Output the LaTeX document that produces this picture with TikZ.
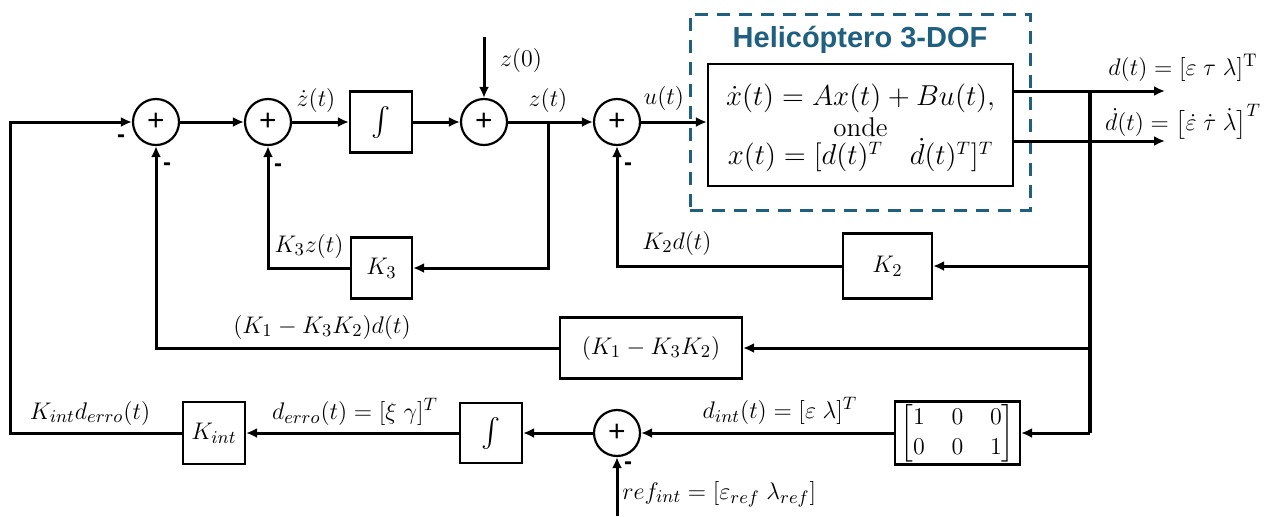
\documentclass[tikz,border=0pt]{standalone}
\usepackage{amsmath}
\usepackage{fontspec}
\newfontfamily\arialf{Liberation Sans}
\usetikzlibrary{arrows.meta,calc}
\definecolor{heli}{RGB}{31,95,128}
\begin{document}
\begin{tikzpicture}[x=0.5pt,y=-0.5pt,
  sig/.style={line width=1.5pt,-{Latex[length=5.5pt,width=5pt]}},
  bus/.style={line width=2.2pt},
  sumnode/.style={circle,draw,line width=1.1pt,minimum size=23pt,inner sep=0pt,fill=white,font=\arialf\fontsize{15}{15}\selectfont},
  blk/.style={draw,line width=1.1pt,inner sep=0pt,fill=white,font=\fontsize{13}{15}\selectfont},
  lbl/.style={font=\fontsize{13}{15}\selectfont,inner sep=1pt},
  minus/.style={font=\arialf\bfseries\fontsize{12}{12}\selectfont,inner sep=0pt}]
\useasboundingbox (0,0) rectangle (1268,516);

% helicopter frame
\node[draw=heli,line width=1.5pt,dash pattern=on 6.5pt off 4.5pt,minimum width=170pt,minimum height=98pt,inner sep=0pt] (frame) at (860,112) {};
\node[text=heli,font=\arialf\bfseries\fontsize{14.5}{15}\selectfont] (title) at (860,40) {Helicóptero 3-DOF};
\node[blk,minimum width=152.5pt,minimum height=61pt] (plant) at (860.5,125) {};
\node[lbl,font=\fontsize{13.5}{15}\selectfont] (pl1) at (860.5,98) {$\dot{x}(t)=Ax(t)+Bu(t),$};
\node[lbl,font=\fontsize{13.5}{15}\selectfont] (pl2) at (860.5,127) {onde};
\node[lbl,font=\fontsize{13.5}{15}\selectfont] (pl3) at (860.5,155) {$x(t)=[d(t)^{T}\quad \dot{d}(t)^{T}]^{T}$};

% summing junctions
\node[sumnode] (s1) at (156,122) {+};
\node[sumnode] (s2) at (268,122) {+};
\node[sumnode] (s3) at (484,122) {+};
\node[sumnode] (s4) at (617,122) {+};
\node[sumnode] (s5) at (617,433) {+};

% blocks
\node[blk,minimum width=31pt,minimum height=30.5pt] (i1) at (381,122) {\fontsize{15}{15}\selectfont$\int$};
\node[blk,minimum width=30.5pt,minimum height=30.5pt] (k3) at (381.5,268) {$K_3$};
\node[blk,minimum width=44.5pt,minimum height=32.5pt] (k2) at (887.5,266) {$K_2$};
\node[blk,minimum width=91pt,minimum height=30.5pt] (k1) at (651,348) {$(K_1-K_3K_2)$};
\node[blk,minimum width=62.5pt,minimum height=31.5pt] (mat) at (957.5,433) {$\begin{bmatrix}1&\;0&\;0\\0&\;0&\;1\end{bmatrix}$};
\node[blk,minimum width=31pt,minimum height=30pt] (i2) at (491,433) {\fontsize{15}{15}\selectfont$\int$};
\node[blk,minimum width=31pt,minimum height=31pt] (kint) at (214,433) {$K_{int}$};

% coordinates
\coordinate (z0) at (484,37);
\coordinate (zbr) at (548,122);
\coordinate (out1) at (1165,91);
\coordinate (out2) at (1165,141);
\coordinate (bt) at (1090,91);
\coordinate (b1) at (1090,266);
\coordinate (b2) at (1090,348);
\coordinate (b3) at (1090,433);
\coordinate (lft) at (10,280);
\coordinate (refin) at (617,516);

% forward path
\draw[sig] (s1.east) -- (s2.west);
\draw[sig] (s2.east) -- (i1.west);
\draw[sig] (i1.east) -- (s3.west);
\draw[sig] (z0) -- (s3.north);
\draw[sig] (s3.east) -- (s4.west);
\draw[sig] (s4.east) -- (s4.east -| plant.west);
\draw[sig] (plant.east |- out1) -- (out1);
\draw[sig] (plant.east |- out2) -- (out2);
\draw[bus] (bt) -- (b3);

% feedback
\draw[sig] (zbr) |- (k3.east);
\draw[sig] (k3.west) -| (s2.south);
\draw[sig] (b1) -- (k2.east);
\draw[sig] (k2.west) -| (s4.south);
\draw[sig] (b2) -- (k1.east);
\draw[sig] (k1.west) -| (s1.south);
\draw[sig] (b3) -- (mat.east);
\draw[sig] (mat.west) -- (s5.east);
\draw[sig] (s5.west) -- (i2.east);
\draw[sig] (i2.west) -- (kint.east);
\draw[sig] (kint.west) -| (lft) |- (s1.west);
\draw[sig] (refin) -- (s5.south);

% labels
\node[lbl] (lz0) at (521,60) {$z(0)$};
\node[lbl] (lzd) at (316,100) {$\dot{z}(t)$};
\node[lbl] (lz) at (548,100) {$z(t)$};
\node[lbl] (lu) at (664,98) {$u(t)$};
\node[lbl] (lk3) at (309,246) {$K_3z(t)$};
\node[lbl] (lk2) at (677,243) {$K_2d(t)$};
\node[lbl] (lk1) at (322,327) {$(K_1-K_3K_2)d(t)$};
\node[lbl] (lki) at (90,413) {$K_{int}d_{erro}(t)$};
\node[lbl] (lde) at (355,412) {$d_{erro}(t)=[\xi\;\gamma]^{T}$};
\node[lbl] (ldi) at (780,411) {$d_{int}(t)=[\varepsilon\;\lambda]^{T}$};
\node[lbl,anchor=west] (lref) at (620,494) {$ref_{int}=[\varepsilon_{ref}\;\lambda_{ref}]$};
\node[lbl] (ld) at (1183,68) {$d(t)=[\varepsilon\;\tau\;\lambda]^{\mathrm{T}}$};
\node[lbl] (ldd) at (1183,122) {$\dot{d}(t)=\big[\dot{\varepsilon}\;\dot{\tau}\;\dot{\lambda}\big]^{T}$};

% minus signs
\node[minus] (m1) at (121,139) {-};
\node[minus] (m2) at (167,167) {-};
\node[minus] (m3) at (278,168) {-};
\node[minus] (m4) at (628,167) {-};
\node[minus] (m5) at (628,466) {-};
\end{tikzpicture}
\end{document}
